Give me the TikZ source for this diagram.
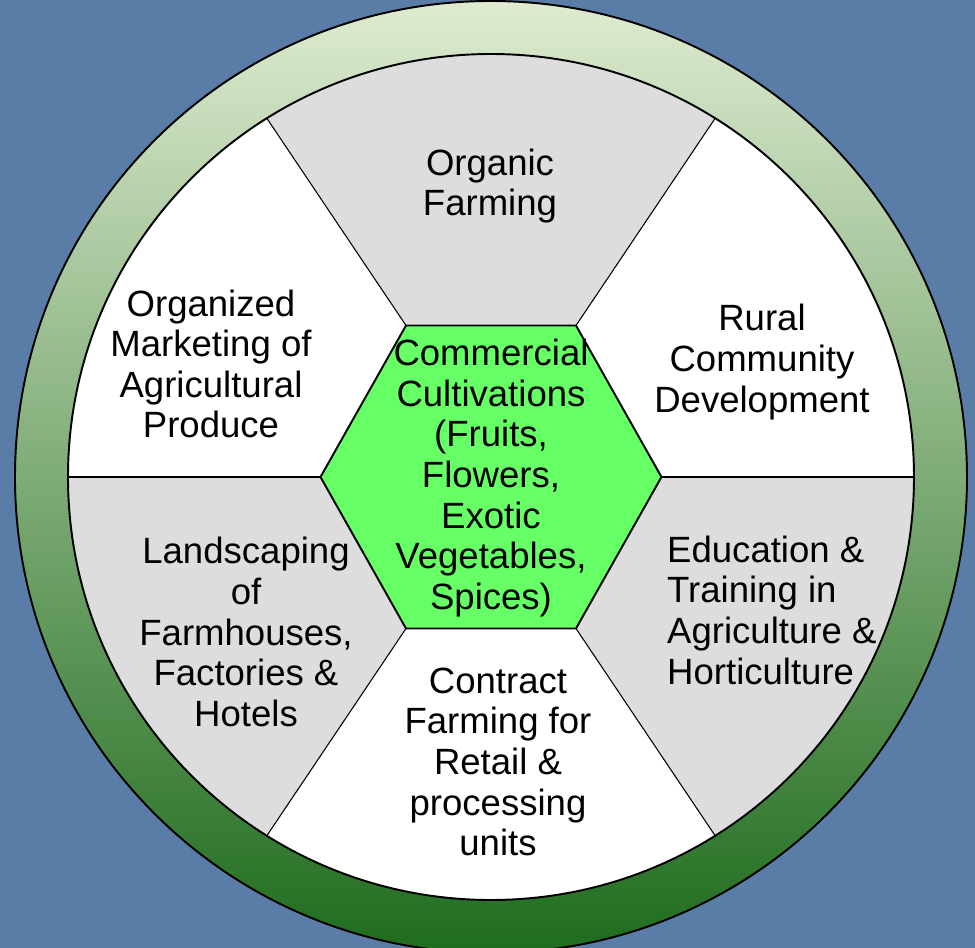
\documentclass[tikz,border=0pt]{standalone}
\usepackage{fontspec}
\setmainfont{Liberation Sans}
\definecolor{bgblue}{HTML}{5A7DA8}
\definecolor{ringtop}{HTML}{DEEBD0}
\definecolor{ringmid}{HTML}{9DBB73}
\definecolor{ringbot}{HTML}{1F6C1E}
\definecolor{sectgray}{HTML}{DDDDDD}
\definecolor{hexgreen}{HTML}{66FF66}

\begin{document}
\begin{tikzpicture}[
    sector/.style={align=center, font=\fontsize{20.8}{23.1}\selectfont},
    spoke/.style={draw=black, line width=0.6pt},
  ]
  % background
  \fill[bgblue] (-9.82,-9.42) rectangle (9.68,9.54);
  \useasboundingbox (-9.82,-9.42) rectangle (9.68,9.54);

  % green ring
  \shade[top color=ringtop, middle color=ringmid, bottom color=ringbot, even odd rule]
    (0,0) circle (9.52) circle (8.46);
  \draw[line width=1.1pt] (0,0) circle (9.52);
  \fill[white] (0,0) circle (8.46);

  % hexagon corners
  \coordinate (h1) at (1.70,3.03);
  \coordinate (h2) at (-1.70,3.03);
  \coordinate (h3) at (-3.41,0);
  \coordinate (h4) at (-1.70,-3.03);
  \coordinate (h5) at (1.70,-3.03);
  \coordinate (h6) at (3.41,0);

  % spoke ends on the inner circle
  \coordinate (r1) at (58:8.46);
  \coordinate (r2) at (122:8.46);
  \coordinate (r3) at (180:8.46);
  \coordinate (r4) at (238:8.46);
  \coordinate (r5) at (302:8.46);
  \coordinate (r6) at (0:8.46);

  % grey sectors
  \fill[sectgray] (h1) -- (r1) arc (58:122:8.46) -- (h2) -- cycle;
  \fill[sectgray] (h3) -- (r3) arc (180:238:8.46) -- (h4) -- cycle;
  \fill[sectgray] (h5) -- (r5) arc (-58:0:8.46) -- (h6) -- cycle;

  \draw[spoke] (h1) -- (r1);
  \draw[spoke] (h2) -- (r2);
  \draw[spoke] (h3) -- (r3);
  \draw[spoke] (h4) -- (r4);
  \draw[spoke] (h5) -- (r5);
  \draw[spoke] (h6) -- (r6);
  \draw[line width=1.1pt] (0,0) circle (8.46);

  % centre
  \filldraw[fill=hexgreen, line width=1.1pt] (h1) -- (h2) -- (h3) -- (h4) -- (h5) -- (h6) -- cycle;
  \node[sector] (core) at (0,-0.02) {Commercial\\Cultivations\\(Fruits,\\Flowers,\\Exotic\\Vegetables,\\Spices)};

  \node[sector] (organic) at (-0.02,5.82) {Organic\\Farming};
  \node[sector] (rural) at (5.42,2.30) {Rural\\Community\\Development};
  \node[sector] (education) [anchor=west] at (3.40,-2.76) {\begin{tabular}{@{}l@{}}Education \&\\Training in\\Agriculture \&\\Horticulture\end{tabular}};
  \node[sector] (contract) at (0.14,-5.70) {Contract\\Farming for\\Retail \&\\processing\\units};
  \node[sector] (landscape) at (-4.90,-3.10) {Landscaping\\of\\Farmhouses,\\Factories \&\\Hotels};
  \node[sector] (marketing) at (-5.60,2.26) {Organized\\Marketing of\\Agricultural\\Produce};
\end{tikzpicture}
\end{document}
